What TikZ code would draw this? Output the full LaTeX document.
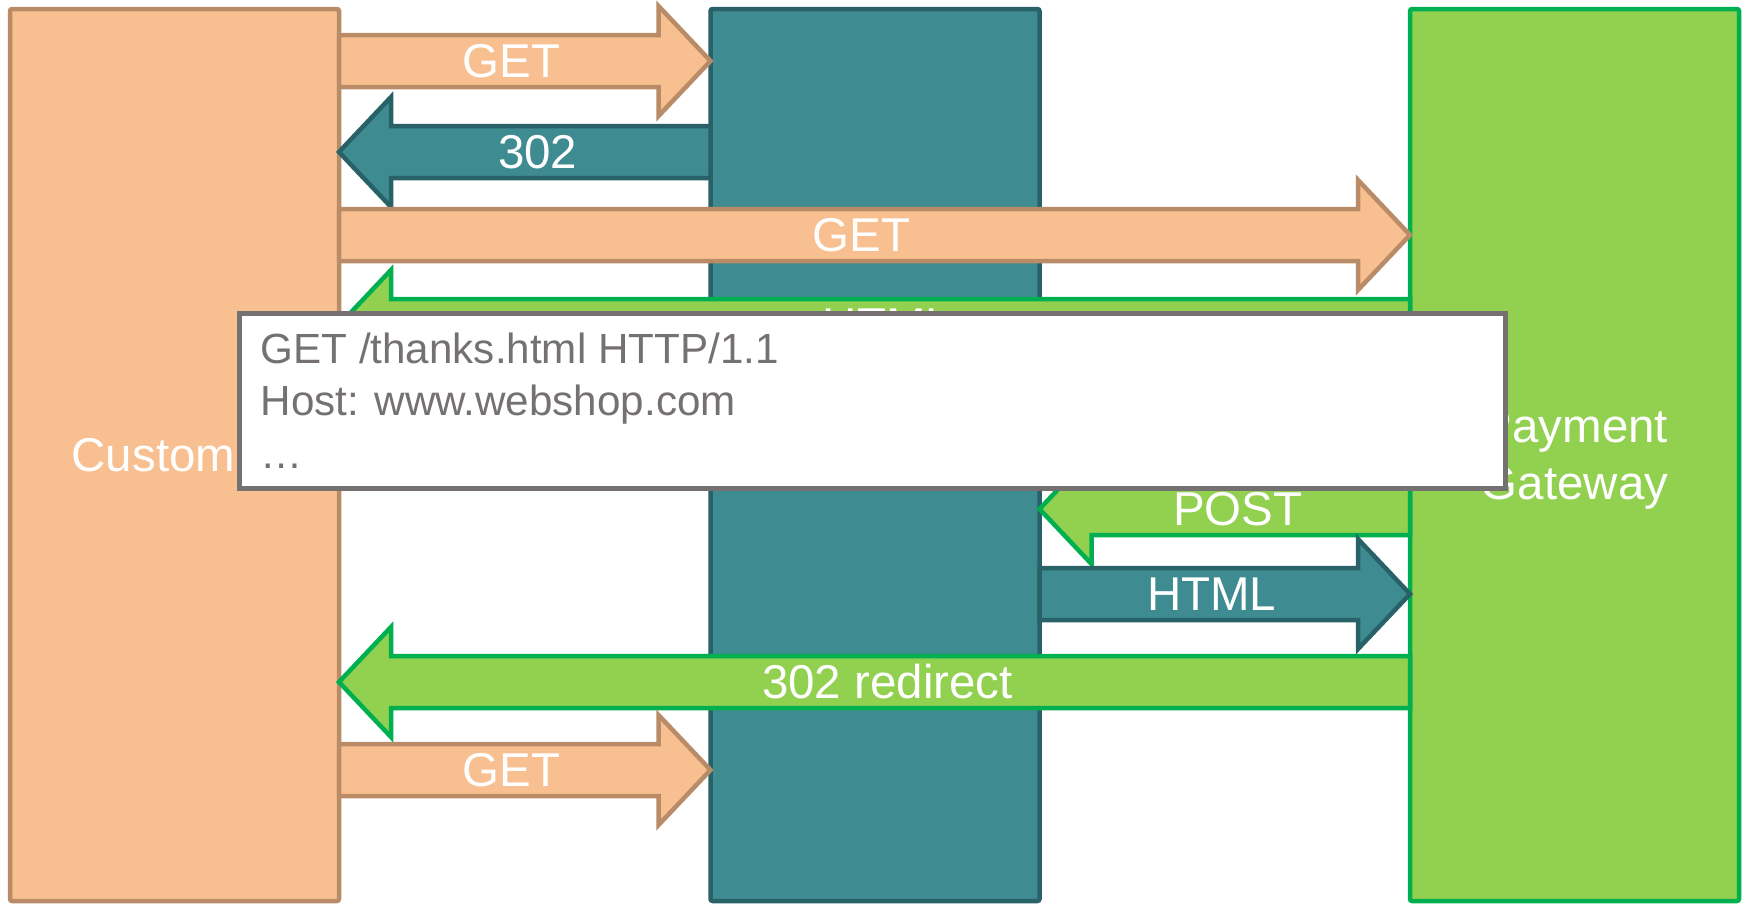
\documentclass[tikz,border=0pt]{standalone}
\usepackage{fontspec}
\setmainfont{Liberation Sans}
\usetikzlibrary{calc}

\definecolor{custfill}{RGB}{248,192,144}
\definecolor{custline}{RGB}{185,139,103}
\definecolor{shopfill}{RGB}{62,139,145}
\definecolor{shopline}{RGB}{40,98,104}
\definecolor{payfill}{RGB}{146,208,80}
\definecolor{payline}{RGB}{0,176,80}
\definecolor{reqgray}{RGB}{118,113,113}

% block arrow: style, tail, tip, label name, label
\newcommand\flow[5]{%
  \draw[#1] let \p1=#2, \p2=#3, \n1={sign(\x2-\x1)} in
    ({\x1},{\y1+2.6mm}) -- ({\x2-\n1*5.2mm},{\y1+2.6mm})
    -- ({\x2-\n1*5.2mm},{\y1+5.5mm}) -- ({\x2},{\y1})
    -- ({\x2-\n1*5.2mm},{\y1-5.5mm}) -- ({\x2-\n1*5.2mm},{\y1-2.6mm})
    -- ({\x1},{\y1-2.6mm}) -- cycle
    node[flowlabel] (#4) at ({(\x1+\x2)/2-\n1*1.3mm},{\y1}) {#5};}

\begin{document}
\begin{tikzpicture}[x=0.1mm,y=-0.1mm,
  party/.style={rectangle,line width=.45mm,rounded corners=.6pt,
    minimum width=32.9mm,minimum height=89.2mm,outer sep=0pt,
    text=white,align=center,font=\fontsize{13.5}{16.2}\selectfont},
  flowlabel/.style={text=white,inner sep=0pt,
    font=\fontsize{13.5}{16.2}\selectfont},
  custflow/.style={fill=custfill,draw=custline,line width=.45mm},
  shopflow/.style={fill=shopfill,draw=shopline,line width=.45mm},
  payflow/.style={fill=payfill,draw=payline,line width=.45mm},
  reqbox/.style={draw=reqgray,fill=white,line width=.5mm,outer sep=0pt,
    minimum width=126.7mm,minimum height=17.5mm},
  reqline/.style={text=reqgray,inner sep=0pt,anchor=base west,
    font=\fontsize{12}{14.8}\selectfont}]
 \useasboundingbox (0,0) rectangle (1747,905);

 % the three parties
 \node[party,fill=custfill,draw=custline] (customer) at (174.5,455) {Customer};
 \node[party,fill=shopfill,draw=shopline] (shop) at (875,455) {};
 \node[party,fill=payfill,draw=payline,text depth=0pt] (gateway) at (1574.5,455)
   {Payment\\Gateway};

 % messages, top to bottom
 \flow{custflow}{(customer.east |- 0,61)}{(shop.west |- 0,61)}{get1}{GET}
 \flow{shopflow}{(shop.west |- 0,152)}{(customer.east |- 0,152)}{redir1}{302}
 \flow{custflow}{(customer.east |- 0,235)}{(gateway.west |- 0,235)}{get2}{GET}
 \flow{payflow}{(gateway.west |- 0,325)}{(customer.east |- 0,325)}{html1}{HTML}
 \flow{payflow}{(gateway.west |- 0,509)}{(shop.east |- 0,509)}{post}{POST}
 \flow{shopflow}{(shop.east |- 0,594)}{(gateway.west |- 0,594)}{html2}{HTML}
 \flow{payflow}{(gateway.west |- 0,682)}{(customer.east |- 0,682)}{redir2}{302 redirect}
 \flow{custflow}{(customer.east |- 0,770)}{(shop.west |- 0,770)}{get3}{GET}

 % request popup
 \node[reqbox,anchor=north west] (request) at (239,313) {};
 \foreach \txt [count=\i] in {GET /thanks.html HTTP/1.1,Host: www.webshop.com,…}
  \node[reqline] (req\i) at (260,{363+52.5*(\i-1)}) {\txt};
\end{tikzpicture}
\end{document}
